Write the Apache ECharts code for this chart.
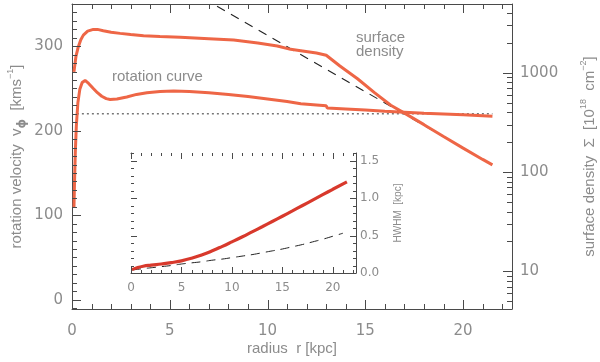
<!DOCTYPE html>
<html><head><meta charset="utf-8">
<script src="https://cdn.jsdelivr.net/npm/echarts@6/dist/echarts.min.js"></script>
<style>html,body{margin:0;padding:0;background:#fff}#c{width:600px;height:362px}</style>
</head><body><div id="c"></div>
<script>
// ---- data ----
const rotR = [0.1,0.13,0.17,0.22,0.3,0.4,0.52,0.67,0.85,1.09,1.3,1.52,1.75,1.95,2.3,2.8,3.3,3.83,4.5,5.2,6.0,7.0,8.0,9.0,10.0,11.0,11.7,12.5,13.0,13.05,14.0,15.0,16.0,17.0,18.0,19.0,20.0,21.0,21.5];
const rotV = [109,140,175,205,233,249,257,259.5,256,250,245,240.8,238,237,237.5,240,243,245,246.5,247,246.5,245,243,240.5,237.5,234.5,232,230.5,229.5,227,225.8,224.5,223.2,222,220.8,219.8,218.8,217.6,217];
const dotR = [0.25,21.5];
const dotV = [220,220];
const sdR = [0.1,0.2,0.32,0.45,0.58,0.8,1.09,1.3,1.6,2.0,2.46,3.0,3.66,4.5,5.54,7.0,8.27,9.5,10.5,11.18,11.7,12.5,13.0,13.7,14.6,15.45,16.3,17.0,18.0,19.0,20.0,21.0,21.5];
const sdV = [1020,1450,1820,2150,2390,2620,2730,2730,2650,2560,2490,2420,2360,2310,2270,2200,2135,1990,1860,1720,1665,1580,1500,1170,870,635,470,392,300,228,174,134,118];
const expR = [6,8,10,12,14,16,18,20,21.5];
const expV = [6760,4010,2380,1410,836,496,294,174,118];
const hwR = [0.1,0.6,1.2,2.0,3.0,4.0,5.0,6.0,7.0,8.0,9.0,10.0,11.0,12.0,13.0,14.0,15.0,16.0,17.0,18.0,19.0,20.0,21.4];
const hwV = [0.045,0.07,0.09,0.105,0.12,0.138,0.162,0.196,0.24,0.293,0.352,0.415,0.48,0.548,0.617,0.687,0.757,0.828,0.9,0.972,1.044,1.116,1.215];
const hw2R = [0.1,1,2,3,4,5,6,7,8,9,10,11,12,13,14,15,16,17,18,19,20,21];
const hw2V = [0.04,0.055,0.07,0.085,0.1,0.12,0.135,0.15,0.17,0.185,0.205,0.225,0.245,0.27,0.295,0.32,0.35,0.38,0.415,0.45,0.49,0.53];
// tick labels and tick positions
const xLabels = [0,5,10,15,20];
const xTicks = [0,1,2,3,4,5,6,7,8,9,10,11,12,13,14,15,16,17,18,19,20,21,22];
const vLabels = [0,100,200,300];
const vTicks = [-10,0,10,20,30,40,50,60,70,80,90,100,110,120,130,140,150,160,170,180,190,200,210,220,230,240,250,260,270,280,290,300,310,320,330,340,350];
const sLabels = [10,100,1000];
const sTicks = [5,6,7,8,9,10,20,30,40,50,60,70,80,90,100,200,300,400,500,600,700,800,900,1000,2000,3000,4000];
const iyLabels = [0,0.5,1.0,1.5];
const iyTicks = [0,0.1,0.2,0.3,0.4,0.5,0.6,0.7,0.8,0.9,1.0,1.1,1.2,1.3,1.4,1.5,1.6];

const TXT = '#8c8c8c', AX = '#4a4a4a';
const DJ = 'DejaVu Sans', LB = 'Liberation Sans';
const zip = (a,b) => a.map((v,i)=>[v,b[i]]);
const isIn = (arr, v) => arr.some(s => Math.abs(s - v) <= 1e-6 * Math.max(1, Math.abs(s)));

// axis carrying the frame line (and optionally the text labels)
function lineAx(o){
  const a = {
    type:o.type||'value', gridIndex:o.grid, position:o.pos, min:o.min, max:o.max,
    splitLine:{show:false}, minorTick:{show:false},
    axisLine:{show:true, onZero:false, lineStyle:{color:AX,width:1}},
    axisTick:{show:false},
    axisLabel: o.labels ? {show:true, customValues:o.labels, margin:o.margin, color:TXT, fontSize:o.fs, fontFamily:DJ, formatter:o.fmt} : {show:false}
  };
  if (o.type === 'log') a.logBase = 10;
  if (o.name) Object.assign(a, {name:o.name, nameLocation:'middle', nameGap:o.gap, nameRotate:o.rot, nameMoveOverlap:false, nameTextStyle:o.nts});
  return a;
}
// inward tick marks, placed through the axes' own scales
function tickSeries(o){
  const horiz = (o.side === 'bottom' || o.side === 'top');
  const dir = {bottom:-1, top:1, left:1, right:-1}[o.side];
  return {
    type:'custom', xAxisIndex:o.xi, yAxisIndex:o.yi, silent:true, clip:false, z:9,
    data: o.vals.map(v => horiz ? [v, o.at] : [o.at, v]),
    renderItem: (params, api) => {
      const vx = api.value(0), vy = api.value(1);
      const p = api.coord([vx, vy]);
      const L = isIn(o.major, horiz ? vx : vy) ? o.big : o.small;
      if (horiz) {
        const x = Math.round(p[0]) + 0.5;
        return {type:'line', shape:{x1:x, y1:p[1], x2:x, y2:p[1] + dir*L}, style:{stroke:AX, lineWidth:1}};
      }
      const y = Math.round(p[1]) + 0.5;
      return {type:'line', shape:{x1:p[0], y1:y, x2:p[0] + dir*L, y2:y}, style:{stroke:AX, lineWidth:1}};
    }
  };
}
const rich = {
  t:{fontSize:15, color:TXT, fontFamily:LB, lineHeight:22},
  sub:{fontSize:12, color:TXT, fontFamily:DJ, fontWeight:'bold', verticalAlign:'bottom', lineHeight:22},
  sup:{fontSize:9, color:TXT, fontFamily:LB, verticalAlign:'top', lineHeight:22}
};

const MX = [0,22.5], IX = [0,22.3], MV = [-11,350], MS = [4.18,4920], IY = [0,1.6];

const chart = echarts.init(document.getElementById('c'), null, {renderer:'canvas'});
chart.setOption({
  animation:false,
  backgroundColor:'#fff',
  grid:[
    {left:72, right:88, top:4, height:305, containLabel:false, outerBoundsMode:'none'},
    {left:131, top:153, width:225, height:120, show:true, backgroundColor:'#fff', borderWidth:0, z:5, containLabel:false, outerBoundsMode:'none'}
  ],
  xAxis:[
    lineAx({grid:0,pos:'bottom',min:MX[0],max:MX[1],labels:xLabels,margin:15,fs:15,fmt:v=>String(v),
        name:'radius  r [kpc]', gap:32, rot:0, nts:{color:TXT,fontSize:15,fontFamily:LB}}),
    lineAx({grid:0,pos:'top',min:MX[0],max:MX[1]}),
    lineAx({grid:1,pos:'bottom',min:IX[0],max:IX[1],labels:xLabels,margin:9,fs:12,fmt:v=>String(v)}),
    lineAx({grid:1,pos:'top',min:IX[0],max:IX[1]})
  ],
  yAxis:[
    lineAx({grid:0,pos:'left',min:MV[0],max:MV[1],labels:vLabels,margin:9,fs:15,fmt:v=>String(v),
        name:'{t|rotation velocity  v}{sub|ϕ}{t|  [kms}{sup|−1}{t|]}', gap:44, rot:90, nts:{rich:rich}}),
    lineAx({grid:0,pos:'right',type:'log',min:MS[0],max:MS[1],labels:sLabels,margin:8,fs:15,fmt:v=>String(Math.round(v)),
        name:'{t|surface density  Σ  [10}{sup|18}{t|  cm}{sup|−2}{t|]}', gap:67, rot:90, nts:{rich:rich}}),
    lineAx({grid:1,pos:'right',min:IY[0],max:IY[1],labels:iyLabels,margin:4,fs:12,fmt:v=>v.toFixed(1),
        name:'HWHM  [kpc]', gap:37, rot:90, nts:{color:TXT,fontSize:10,fontFamily:LB}}),
    lineAx({grid:1,pos:'left',min:IY[0],max:IY[1]})
  ],
  graphic:[
    {type:'text', x:112, y:77, style:{text:'rotation curve', fill:TXT, font:'15px "Liberation Sans"', verticalAlign:'middle'}},
    {type:'text', x:356, y:45, style:{text:'surface\ndensity', fill:TXT, font:'15px "Liberation Sans"', lineHeight:13.5, verticalAlign:'middle'}}
  ],
  series:[
    {type:'line', xAxisIndex:0, yAxisIndex:0, data:zip(dotR,dotV), showSymbol:false, lineStyle:{color:'#333',width:1,type:[2,3]}, z:3},
    {type:'line', xAxisIndex:0, yAxisIndex:1, data:zip(expR,expV), showSymbol:false, lineStyle:{color:'#222',width:1.1,type:[9,7]}, z:3},
    {type:'line', xAxisIndex:0, yAxisIndex:0, data:zip(rotR,rotV), showSymbol:false, lineStyle:{color:'#ee6646',width:3}, z:4},
    {type:'line', xAxisIndex:0, yAxisIndex:1, data:zip(sdR,sdV), showSymbol:false, lineStyle:{color:'#ee6646',width:3}, z:4},
    {type:'line', xAxisIndex:2, yAxisIndex:2, data:zip(hw2R,hw2V), showSymbol:false, smooth:0.5, lineStyle:{color:'#222',width:1,type:[9,6]}, z:6},
    {type:'line', xAxisIndex:2, yAxisIndex:2, data:zip(hwR,hwV), showSymbol:false, smooth:0.5, lineStyle:{color:'#d8392c',width:3.2}, z:7},
    // main frame ticks
    tickSeries({side:'bottom', xi:0, yi:0, at:MV[0], vals:xTicks, major:xLabels, big:9, small:5}),
    tickSeries({side:'top',    xi:0, yi:0, at:MV[1], vals:xTicks, major:xLabels, big:9, small:5}),
    tickSeries({side:'left',   xi:0, yi:0, at:MX[0], vals:vTicks, major:vLabels, big:9, small:5}),
    tickSeries({side:'right',  xi:0, yi:1, at:MX[1], vals:sTicks, major:sLabels, big:9, small:5}),
    // inset frame ticks
    tickSeries({side:'bottom', xi:2, yi:2, at:IY[0], vals:xTicks, major:xLabels, big:6, small:3}),
    tickSeries({side:'top',    xi:2, yi:2, at:IY[1], vals:xTicks, major:xLabels, big:6, small:3}),
    tickSeries({side:'left',   xi:2, yi:2, at:IX[0], vals:iyTicks, major:iyLabels, big:6, small:3}),
    tickSeries({side:'right',  xi:2, yi:2, at:IX[1], vals:iyTicks, major:iyLabels, big:6, small:3})
  ]
});
</script></body></html>
